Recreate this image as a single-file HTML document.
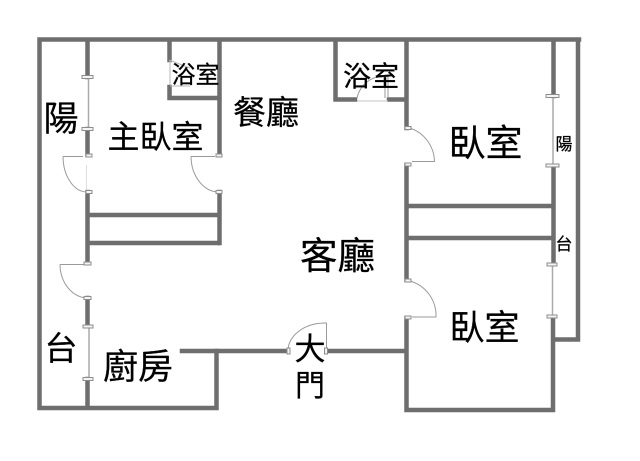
<!DOCTYPE html>
<html><head><meta charset="utf-8">
<style>
html,body{margin:0;padding:0;background:#fff;width:640px;height:461px;overflow:hidden}
svg{display:block}
text{font-family:"Liberation Sans","Noto Sans CJK TC",sans-serif;fill:#000;stroke:#000;stroke-width:.25}
</style></head><body>
<svg width="640" height="461" viewBox="0 0 640 461" xmlns="http://www.w3.org/2000/svg">
<g stroke="#6e6e6e" stroke-width="4.500" fill="none" stroke-linecap="square">
<path d="M579 39.500H39.500V408H216.500V351"/>
<path d="M578 40V339.500H554"/>
<path d="M87.500 41V77M87.500 129V155M87.500 192V263M87.500 298V326M87.500 379V407"/>
<path d="M169.500 41V60M169.500 87V98H219"/>
<path d="M219.500 41V155M219.500 192V243"/>
<path d="M89 215H218M89 243H218"/>
<path d="M335.500 41V99.500H355M389 99.500H405"/>
<path d="M406.500 42V128M406.500 165V280M406.500 318V410H553V318"/>
<path d="M553.500 42V96M553.500 166V264"/>
<path d="M408 206H552M408 238H552"/>
<path d="M182 351H286M329 351H405"/>
</g>
<g stroke="#9a9a9a" stroke-width="1" fill="none">
<path d="M63 156.500H83M63 156.500A24 36 0 0 0 87 192"/>
<path d="M191 156.500H215M191 156.500A28 36 0 0 0 219 192"/>
<path d="M60 264.500H84M60 264.500A28 34 0 0 0 88 298"/>
<path d="M410 128A36 36 0 0 1 434.500 161.500H412"/>
<path d="M410 281A36 36 0 0 1 436 317H412"/>
<path d="M324 323A37 28 0 0 0 288 351M322.500 323H326.500V350"/>
<path d="M357 98A28 28 0 0 1 386 76"/>
<path d="M385 76V98M388 76V98"/>
<path d="M357 101H388" stroke="#c4c4c4"/>
<path d="M169 60L190 68M170 85V60M170 86H190" stroke="#b8b8b8"/>
<path d="M86.500 165V190" stroke="#dddddd"/>
<path d="M88.500 78V128M553 97V165M552.500 265V316M89 327V378" stroke="#aaaaaa" stroke-width="1.500"/>
</g>
<g fill="#f4f4f4" stroke="#8c8c8c" stroke-width="1">
<rect x="82" y="75.500" width="11" height="3"/>
<rect x="82" y="127.500" width="11" height="3"/>
<rect x="86" y="154" width="6" height="3"/>
<rect x="86" y="190.500" width="6" height="3"/>
<rect x="216" y="154" width="6" height="3"/>
<rect x="216" y="190.500" width="6" height="3"/>
<rect x="84" y="262" width="7" height="3"/>
<rect x="84" y="296.500" width="7" height="3"/>
<rect x="83" y="325" width="10" height="3"/>
<rect x="83" y="377.500" width="10" height="3"/>
<rect x="405" y="126.500" width="6" height="3"/>
<rect x="405" y="163" width="6" height="3"/>
<rect x="405" y="279" width="6" height="3"/>
<rect x="405" y="316" width="6" height="3"/>
<rect x="546" y="94.500" width="13" height="3"/>
<rect x="546" y="164" width="13" height="3"/>
<rect x="547" y="263" width="10" height="3"/>
<rect x="547" y="315" width="10" height="3"/>
<rect x="287" y="348" width="3" height="6"/>
<rect x="324.500" y="348" width="3" height="6"/>
</g>
<g text-anchor="middle">
<text x="61" y="131" font-size="35">陽</text>
<text x="155.500" y="148" font-size="32">主臥室</text>
<text x="195.500" y="83" font-size="24">浴室</text>
<text x="266" y="124" font-size="33">餐廳</text>
<text x="371" y="86" font-size="28">浴室</text>
<text x="485.500" y="156" font-size="37">臥室</text>
<text x="564" y="150" font-size="17">陽</text>
<text x="564" y="250" font-size="17">台</text>
<text x="337.500" y="269" font-size="37.500">客廳</text>
<text x="484.500" y="340" font-size="35">臥室</text>
<text x="61" y="360" font-size="33">台</text>
<text x="138" y="379" font-size="35">廚房</text>
<text x="310" y="360" font-size="31">大</text>
<text x="310" y="396" font-size="30">門</text>
</g>
</svg>
</body></html>
